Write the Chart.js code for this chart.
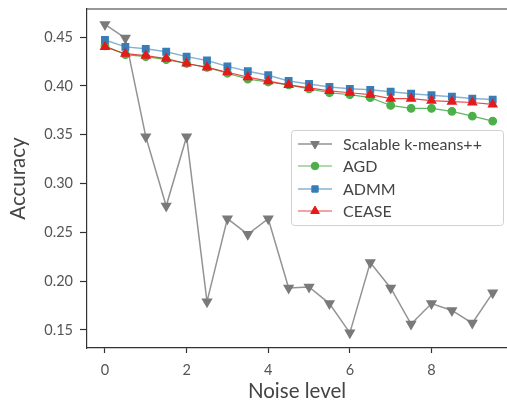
<!DOCTYPE html>
<html>
<head>
<meta charset="utf-8">
<script src="https://cdn.jsdelivr.net/npm/chart.js@4.4.0/dist/chart.umd.min.js"></script>
<style>
  html, body { margin: 0; padding: 0; background: #fff; }
  #wrap { width: 507px; height: 404px; }
</style>
</head>
<body>
<div id="wrap"><canvas id="accChart" width="507" height="404"></canvas></div>
<script>
// ノイズレベル (x軸)
const noiseLevels = [0, 0.5, 1, 1.5, 2, 2.5, 3, 3.5, 4, 4.5, 5, 5.5, 6, 6.5, 7, 7.5, 8, 8.5, 9, 9.5];
// 各手法の精度
const kmeansAcc = [0.463, 0.449, 0.348, 0.277, 0.348, 0.179, 0.264, 0.248, 0.264, 0.193,
                   0.194, 0.177, 0.147, 0.219, 0.193, 0.156, 0.177, 0.170, 0.157, 0.188];
const agdAcc = [0.441, 0.432, 0.430, 0.427, 0.423, 0.419, 0.413, 0.407, 0.404, 0.401,
                0.397, 0.393, 0.391, 0.388, 0.380, 0.377, 0.377, 0.374, 0.369, 0.364];
const admmAcc = [0.447, 0.440, 0.438, 0.435, 0.430, 0.426, 0.420, 0.415, 0.411, 0.405,
                 0.402, 0.399, 0.397, 0.396, 0.394, 0.392, 0.3905, 0.389, 0.387, 0.386];
const ceaseAcc = [0.440, 0.433, 0.431, 0.428, 0.423, 0.419, 0.414, 0.409, 0.405, 0.401,
                  0.398, 0.395, 0.393, 0.391, 0.387, 0.387, 0.385, 0.384, 0.383, 0.381];
// 目盛り
const xTicks = [0, 2, 4, 6, 8];
const yTicks = [0.15, 0.20, 0.25, 0.30, 0.35, 0.40, 0.45];

const FONT = 'Lato';
const SPINE = '#333';

/**
 * 系列データを {x, y} の配列にする
 */
function toPoints(values) {
    return noiseLevels.map((x, i) => ({ x: x, y: values[i] }));
}

// 凡例（グラフ内右側に描画）
const insideLegend = {
    id: 'insideLegend',
    afterDraw(chart) {
        const ctx = chart.ctx;
        const left = 291, top = 130, w = 212, h = 95;
        ctx.save();
        ctx.fillStyle = 'rgba(255,255,255,0.85)';
        ctx.strokeStyle = '#d0d0d0';
        ctx.lineWidth = 1;
        ctx.beginPath();
        ctx.roundRect(left + 0.5, top + 0.5, w, h, 3);
        ctx.fill();
        ctx.stroke();

        const rows = [144, 166, 189, 211];
        chart.data.datasets.forEach((ds, i) => {
            const y = rows[i];
            ctx.strokeStyle = ds.borderColor;
            ctx.lineWidth = ds.borderWidth;
            ctx.beginPath();
            ctx.moveTo(298, y);
            ctx.lineTo(332, y);
            ctx.stroke();
            ctx.fillStyle = ds.markerColor;
            ctx.strokeStyle = ds.markerColor;
            ctx.lineWidth = 1;
            Chart.helpers.drawPoint(ctx, {
                pointStyle: ds.pointStyle,
                rotation: ds.pointRotation || 0,
                radius: ds.pointRadius,
                borderWidth: 1
            }, 315, y);
            ctx.fillStyle = '#444';
            ctx.font = '16px ' + FONT;
            ctx.textBaseline = 'middle';
            ctx.fillText(ds.label, 343, y + 1);
        });
        ctx.restore();
    },
    beforeDatasetsDraw(chart) {
        // 上側の枠線
        const { ctx, chartArea } = chart;
        ctx.save();
        ctx.strokeStyle = SPINE;
        ctx.lineWidth = 1.2;
        ctx.beginPath();
        ctx.moveTo(chartArea.left, chartArea.top);
        ctx.lineTo(chart.width, chartArea.top);
        ctx.stroke();
        ctx.restore();
    }
};

// 点のスタイル設定用（凡例でも使う）
function styleDataset(ds) {
    ds.pointBackgroundColor = ds.markerColor;
    ds.pointBorderColor = ds.markerColor;
    ds.pointHoverRadius = ds.pointRadius;
    return ds;
}

function createAccuracyChart() {
    const ctx = document.getElementById('accChart').getContext('2d');
    const datasets = [
        styleDataset({
            label: 'Scalable k-means++',
            data: toPoints(kmeansAcc),
            borderColor: 'rgba(128,128,128,0.85)',
            markerColor: '#7a7a7a',
            borderWidth: 1.5,
            pointStyle: 'triangle',
            pointRotation: 180,
            pointRadius: 5,
            order: 3
        }),
        styleDataset({
            label: 'AGD',
            data: toPoints(agdAcc),
            borderColor: 'rgba(77,175,74,0.9)',
            markerColor: '#4daf4a',
            borderWidth: 1.2,
            pointStyle: 'circle',
            pointRadius: 3.8,
            order: 2
        }),
        styleDataset({
            label: 'ADMM',
            data: toPoints(admmAcc),
            borderColor: 'rgba(55,126,184,0.6)',
            markerColor: '#377eb8',
            borderWidth: 1.5,
            pointStyle: 'rect',
            pointRadius: 4.5,
            order: 1
        }),
        styleDataset({
            label: 'CEASE',
            data: toPoints(ceaseAcc),
            borderColor: 'rgba(228,26,28,0.8)',
            markerColor: '#e41a1c',
            borderWidth: 1.2,
            pointStyle: 'triangle',
            pointRotation: 0,
            pointRadius: 5,
            order: 0
        })
    ];

    new Chart(ctx, {
        type: 'line',
        data: { datasets: datasets },
        options: {
            responsive: false,
            animation: false,
            layout: { autoPadding: false, padding: { top: 9, right: 0, left: 0, bottom: 0 } },
            plugins: {
                legend: { display: false },
                tooltip: { enabled: false }
            },
            scales: {
                x: {
                    type: 'linear',
                    min: -0.44,
                    max: 9.85,
                    afterBuildTicks: (scale) => { scale.ticks = xTicks.map(v => ({ value: v })); },
                    afterFit: (scale) => { scale.height = 56; scale.paddingLeft = 0; scale.paddingRight = 0; },
                    border: { display: true, color: SPINE, width: 1.2 },
                    grid: { drawOnChartArea: false, drawTicks: true, tickLength: 5, color: SPINE, tickWidth: 1.2 },
                    ticks: {
                        color: '#555',
                        font: { family: FONT, size: 14.5 },
                        padding: 9,
                        maxRotation: 0,
                        callback: (v) => String(v)
                    },
                    title: {
                        display: true,
                        text: 'Noise level',
                        color: '#444',
                        font: { family: FONT, size: 20.5 },
                        padding: { top: 0, bottom: 0 }
                    }
                },
                y: {
                    min: 0.1315,
                    max: 0.4788,
                    afterBuildTicks: (scale) => { scale.ticks = yTicks.map(v => ({ value: v })); },
                    afterFit: (scale) => { scale.width = 87; scale.paddingTop = 0; scale.paddingBottom = 0; },
                    border: { display: true, color: SPINE, width: 1.2 },
                    grid: { drawOnChartArea: false, drawTicks: true, tickLength: 7, color: SPINE, tickWidth: 1.2 },
                    ticks: {
                        color: '#555',
                        font: { family: FONT, size: 14.5 },
                        padding: 7,
                        callback: (v) => v.toFixed(2)
                    },
                    title: {
                        display: true,
                        text: 'Accuracy',
                        color: '#444',
                        font: { family: FONT, size: 20.5 },
                        padding: { top: 6, bottom: 0 }
                    }
                }
            }
        },
        plugins: [insideLegend]
    });
}

createAccuracyChart();
</script>
</body>
</html>
